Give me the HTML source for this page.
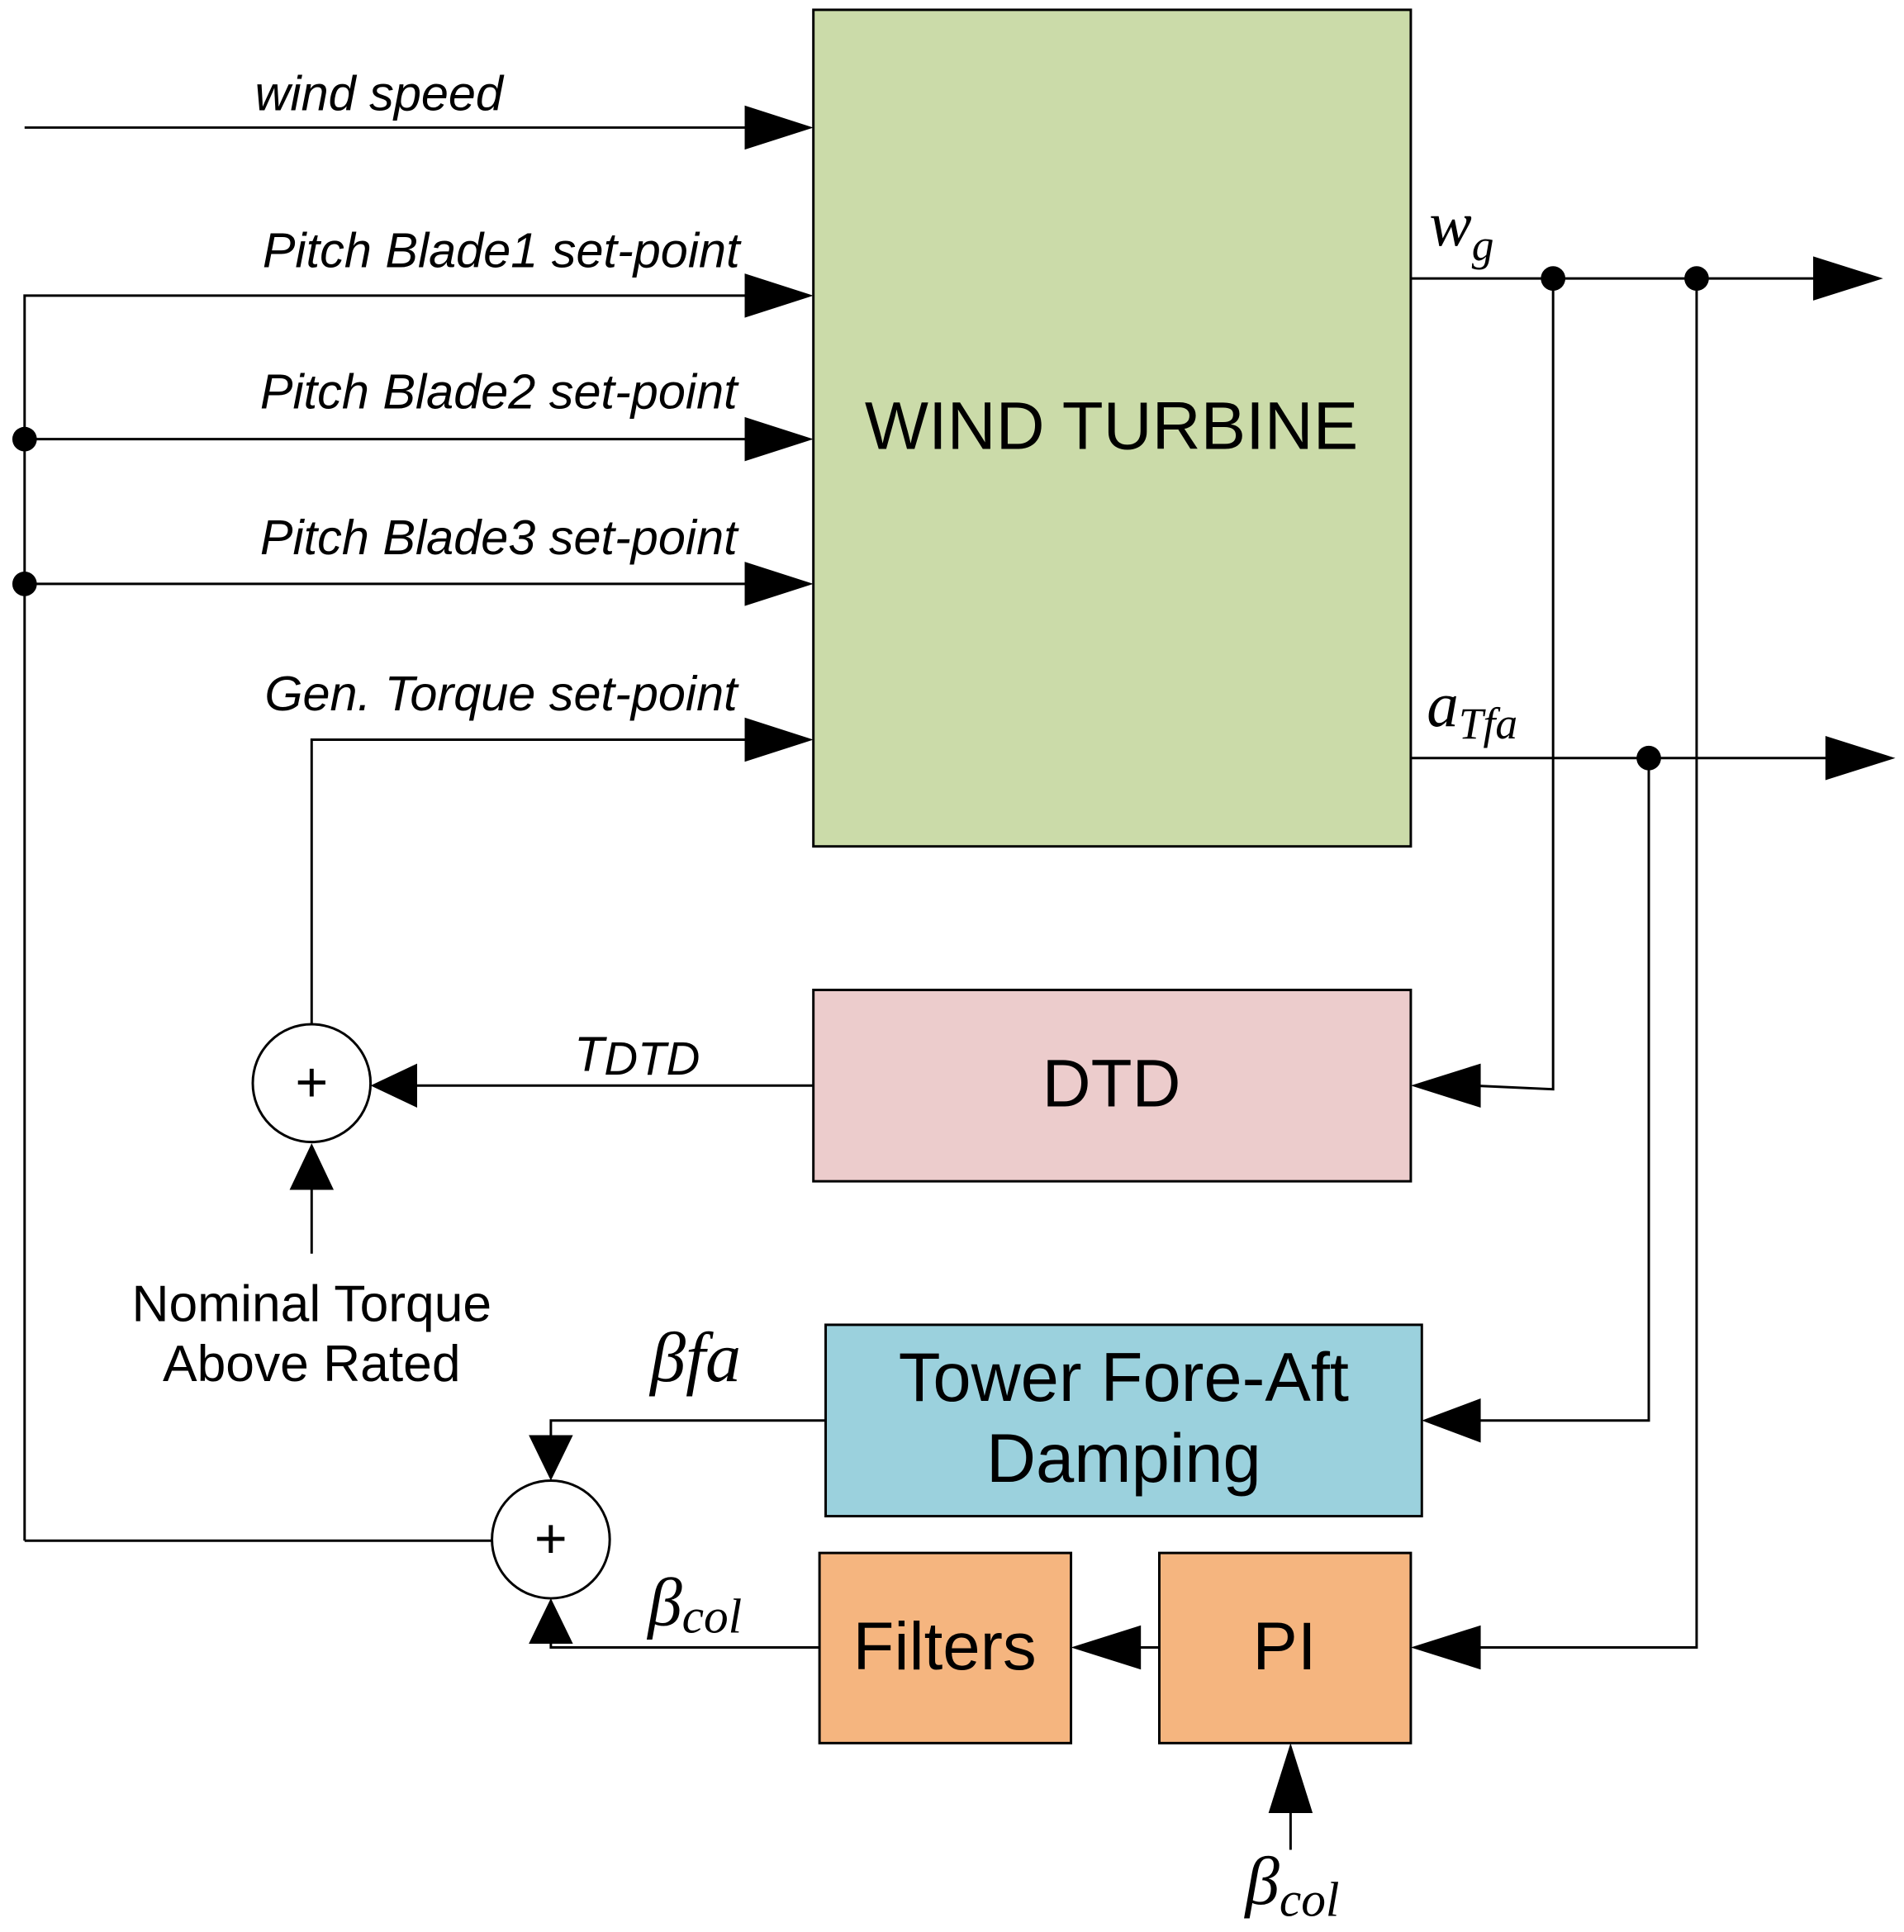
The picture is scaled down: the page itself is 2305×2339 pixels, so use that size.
<!DOCTYPE html>
<html><head><meta charset="utf-8"><style>
html,body{margin:0;padding:0;background:#fff}
svg{display:block}
.t{font-family:"Liberation Sans",sans-serif}
.i{font-family:"Liberation Sans",sans-serif;font-style:italic;font-size:40px}
.g{font-family:"Liberation Serif",serif;font-style:italic}
</style></head><body>
<svg width="2305" height="2339" viewBox="0 0 1552 1575" xmlns="http://www.w3.org/2000/svg">
<g stroke="#000" stroke-width="2" fill="none">
<rect x="663" y="8" width="487" height="682" fill="#cbdba9"/>
<rect x="663" y="807" width="487" height="156" fill="#eccccc"/>
<rect x="673" y="1080" width="486" height="156" fill="#9bd1dd"/>
<rect x="668" y="1266" width="205" height="155" fill="#f5b57f"/>
<rect x="945" y="1266" width="205" height="155" fill="#f5b57f"/>
<circle cx="254" cy="883" r="48" fill="#fff"/>
<circle cx="449" cy="1255" r="48" fill="#fff"/>
<polyline points="20,104 610,104"/>
<polyline points="20,1256 20,241 610,241"/>
<polyline points="20,358 610,358"/>
<polyline points="20,476 610,476"/>
<polyline points="20,1256 401,1256"/>
<polyline points="254,835 254,603 610,603"/>
<polyline points="1150,227 1480,227"/>
<polyline points="1150,618 1490,618"/>
<polyline points="1266,227 1266,888 1200,885"/>
<polyline points="1344,618 1344,1158 1205,1158"/>
<polyline points="1383,227 1383,1343 1205,1343"/>
<polyline points="663,885 335,885"/>
<polyline points="254,1022 254,965"/>
<polyline points="673,1158 449,1158 449,1175"/>
<polyline points="668,1343 449,1343 449,1335"/>
<polyline points="945,1343 925,1343"/>
<polyline points="1052,1508 1052,1465"/>
</g>
<g fill="#000">
<polygon points="607,86 663,104 607,122"/>
<polygon points="607,223 663,241 607,259"/>
<polygon points="607,340 663,358 607,376"/>
<polygon points="607,458 663,476 607,494"/>
<polygon points="607,585 663,603 607,621"/>
<polygon points="1478,209 1535,227 1478,245"/>
<polygon points="1488,600 1545,618 1488,636"/>
<polygon points="1207,867 1150,885 1207,903"/>
<polygon points="340,867 302,885 340,903"/>
<polygon points="236,970 254,932 272,970"/>
<polygon points="1207,1140 1159,1158 1207,1176"/>
<polygon points="431,1170 449,1207 467,1170"/>
<polygon points="431,1340 449,1303 467,1340"/>
<polygon points="930,1325 873,1343 930,1361"/>
<polygon points="1207,1325 1150,1343 1207,1361"/>
<polygon points="1034,1478 1052,1421 1070,1478"/>
<circle cx="20" cy="358" r="10"/>
<circle cx="20" cy="476" r="10"/>
<circle cx="1266" cy="227" r="10"/>
<circle cx="1383" cy="227" r="10"/>
<circle cx="1344" cy="618" r="10"/>
</g>
<g fill="#000">
<text class="i" x="410" y="90" text-anchor="end">wind speed</text>
<text class="i" x="603" y="218" text-anchor="end">Pitch Blade1 set-point</text>
<text class="i" x="601" y="333" text-anchor="end">Pitch Blade2 set-point</text>
<text class="i" x="601" y="452" text-anchor="end">Pitch Blade3 set-point</text>
<text class="i" x="601" y="579" text-anchor="end">Gen. Torque set-point</text>
<text class="t" x="906" y="366" font-size="55" text-anchor="middle">WIND TURBINE</text>
<text class="t" x="906" y="902" font-size="55" text-anchor="middle">DTD</text>
<text class="t" x="916" y="1142" font-size="56" text-anchor="middle">Tower Fore-Aft</text>
<text class="t" x="916" y="1208" font-size="56" text-anchor="middle">Damping</text>
<text class="t" x="770" y="1361" font-size="55" text-anchor="middle">Filters</text>
<text class="t" x="1047" y="1361" font-size="55" text-anchor="middle">PI</text>
<text class="t" x="254" y="898" font-size="46" text-anchor="middle">+</text>
<text class="t" x="449" y="1270" font-size="46" text-anchor="middle">+</text>
<text class="t" x="254" y="1077" font-size="42" text-anchor="middle">Nominal Torque</text>
<text class="t" x="254" y="1126" font-size="42" text-anchor="middle">Above Rated</text>
<text class="g" x="1165" y="200" font-size="52">w<tspan font-size="36" dy="12">g</tspan></text>
<text class="g" x="1163" y="592" font-size="52">a<tspan font-size="36" dy="10">Tfa</tspan></text>
<text class="i" x="468" y="873" font-size="54">T<tspan font-size="38" dy="3">DTD</tspan></text>
<text class="g" x="530" y="1126" font-size="58">βfa</text>
<text class="g" x="528" y="1325" font-size="56">β<tspan font-size="40" dy="6">col</tspan></text>
<text class="g" x="1015" y="1552" font-size="56">β<tspan font-size="40" dy="10">col</tspan></text>
</g>
</svg>
</body></html>
